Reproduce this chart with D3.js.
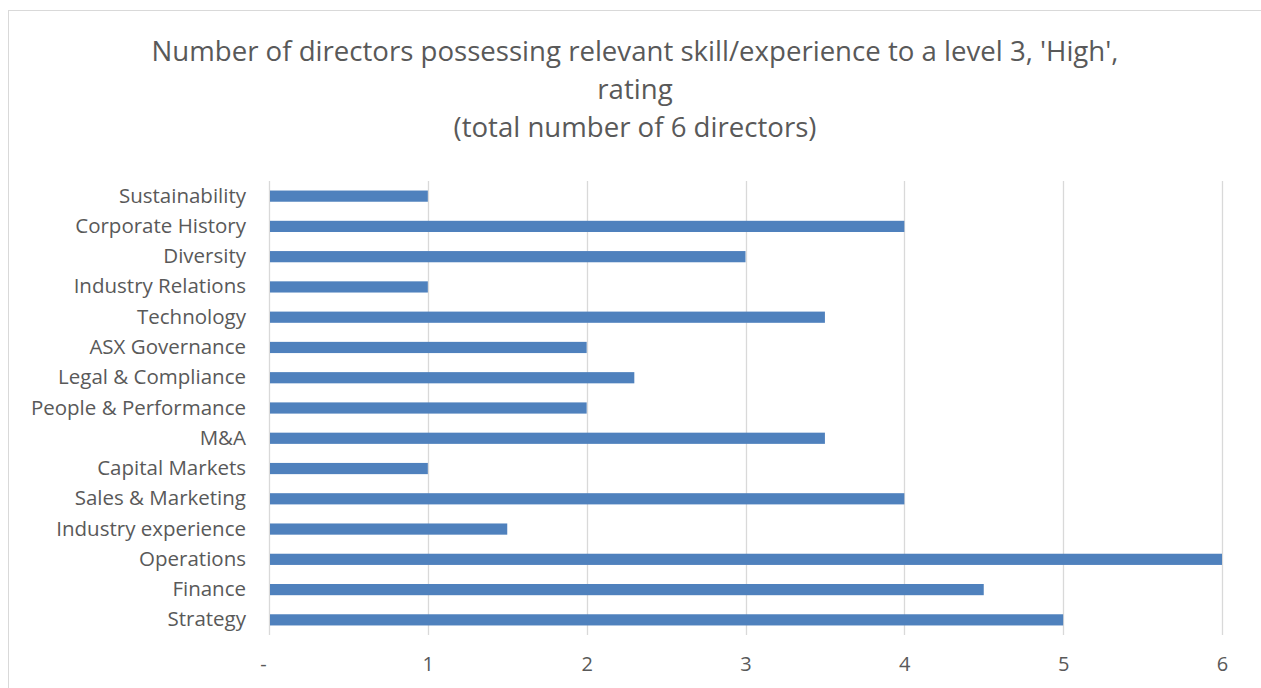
<!DOCTYPE html>
<html>
<head>
<meta charset="utf-8">
<script src="https://cdn.jsdelivr.net/npm/d3@7"></script>
<style>
  body { margin: 0; background: #fff; }
  svg text { font-family: "Open Sans", sans-serif; fill: #595959; }
</style>
</head>
<body>
<svg id="chart" width="1261" height="688"></svg>
<script>
const skills = [
  "Sustainability", "Corporate History", "Diversity", "Industry Relations",
  "Technology", "ASX Governance", "Legal & Compliance", "People & Performance",
  "M&A", "Capital Markets", "Sales & Marketing", "Industry experience",
  "Operations", "Finance", "Strategy"
];
const directors = [1, 4, 3, 1, 3.5, 2, 2.3, 2, 3.5, 1, 4, 1.5, 6, 4.5, 5];
const tickValues = [0, 1, 2, 3, 4, 5, 6];
const titleLines = [
  "Number of directors possessing relevant skill/experience to a level 3, 'High',",
  "rating",
  "(total number of 6 directors)"
];

const svg = d3.select("#chart");
const width = +svg.attr("width");
const height = +svg.attr("height");

// chart frame (runs off the right/bottom edge like the original)
svg.append("rect")
  .attr("x", 8.5).attr("y", 10.5)
  .attr("width", width).attr("height", height)
  .attr("fill", "none")
  .attr("stroke", "#d9d9d9");

const margin = { left: 269, right: 39, top: 181, bottom: 53 };

const x = d3.scaleLinear()
  .domain([0, 6])
  .range([margin.left, width - margin.right]);

const y = d3.scaleBand()
  .domain(skills)
  .range([margin.top, height - margin.bottom])
  .paddingInner(0.63)
  .paddingOuter(0.315);

// gridlines
svg.append("g")
  .selectAll("line")
  .data(tickValues)
  .join("line")
  .attr("x1", (d) => Math.round(x(d)) + 0.5)
  .attr("x2", (d) => Math.round(x(d)) + 0.5)
  .attr("y1", margin.top)
  .attr("y2", height - margin.bottom)
  .attr("stroke", "#d9d9d9")
  .attr("stroke-width", 1.3);

// bars
svg.append("g")
  .selectAll("rect")
  .data(directors)
  .join("rect")
  .attr("x", x(0) + 1)
  .attr("y", (d, i) => y(skills[i]))
  .attr("width", (d) => x(d) - x(0) - 1)
  .attr("height", y.bandwidth())
  .attr("fill", "#4f81bd");

// category labels
const yAxis = svg.append("g")
  .attr("transform", `translate(${margin.left},0)`)
  .call(d3.axisLeft(y).tickSize(0).tickPadding(23));
yAxis.select(".domain").remove();
yAxis.selectAll("text")
  .attr("font-size", 20.5)
  .style("font-family", "'Open Sans', sans-serif")
  .attr("fill", "#595959");

// value axis labels
const xAxis = svg.append("g")
  .attr("transform", `translate(0,${height - margin.bottom})`)
  .call(d3.axisBottom(x)
    .tickValues(tickValues)
    .tickSize(0)
    .tickPadding(22)
    .tickFormat((d) => (d === 0 ? "-" : d3.format("d")(d))));
xAxis.select(".domain").remove();
xAxis.selectAll("text")
  .attr("font-size", 20)
  .style("font-family", "'Open Sans', sans-serif")
  .attr("fill", "#595959");
xAxis.selectAll(".tick")
  .filter((d) => d === 0)
  .select("text")
  .attr("dx", -6);

// title
svg.append("text")
  .attr("text-anchor", "middle")
  .attr("font-size", 27.6)
  .selectAll("tspan")
  .data(titleLines)
  .join("tspan")
  .attr("x", 635)
  .attr("y", (d, i) => 61 + i * 38)
  .text((d) => d);
</script>
</body>
</html>
